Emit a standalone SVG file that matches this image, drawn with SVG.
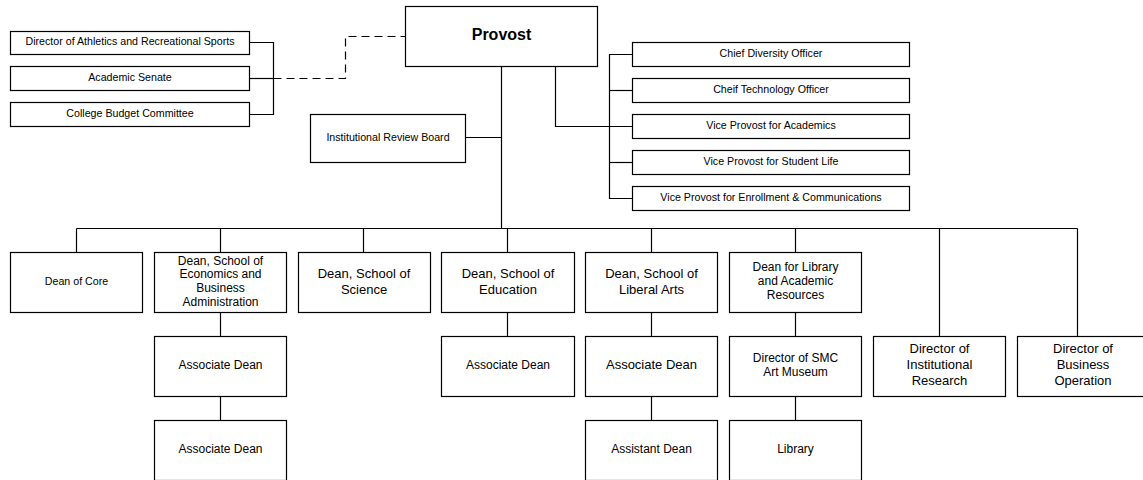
<svg xmlns="http://www.w3.org/2000/svg" width="1143" height="480" viewBox="0 0 1143 480">
<style>
  rect.box { fill: #ffffff; stroke: #000000; stroke-width: 1.2; }
  .conn path, .conn line { fill: none; stroke: #000000; stroke-width: 1.2; }
  .conn .dash { stroke-dasharray: 8 5; }
  text { font-family: "Liberation Sans", Arial, sans-serif; fill: #000000; text-anchor: middle; }
  .s { font-size: 10.67px; }
  .m { font-size: 12px; }
  .l { font-size: 13px; }
  .b { font-size: 16px; font-weight: bold; }
</style>
<rect width="1143" height="480" fill="#ffffff"/>

<g class="conn" id="connectors">
  <path d="M249.5 42.5 H273.5 V114.5 H249.5"/>
  <line x1="249.5" y1="78.5" x2="273.5" y2="78.5"/>
  <path class="dash" d="M273.5 78.5 H345.5 V36.5 H405.5"/>
  <line x1="501.5" y1="66.5" x2="501.5" y2="228.5"/>
  <line x1="465.5" y1="137.5" x2="501.5" y2="137.5"/>
  <path d="M555.5 66.5 V126.5 H632.5"/>
  <path d="M632.5 54.5 H609.5 V198.5 H632.5"/>
  <line x1="609.5" y1="90.5" x2="632.5" y2="90.5"/>
  <line x1="609.5" y1="162.5" x2="632.5" y2="162.5"/>
  <line x1="76.5" y1="228.5" x2="1077.5" y2="228.5"/>
  <line x1="76.5" y1="228.5" x2="76.5" y2="252.5"/>
  <line x1="220.5" y1="228.5" x2="220.5" y2="252.5"/>
  <line x1="363.5" y1="228.5" x2="363.5" y2="252.5"/>
  <line x1="507.5" y1="228.5" x2="507.5" y2="252.5"/>
  <line x1="651.5" y1="228.5" x2="651.5" y2="252.5"/>
  <line x1="795.5" y1="228.5" x2="795.5" y2="252.5"/>
  <line x1="939.5" y1="228.5" x2="939.5" y2="336.5"/>
  <line x1="1077.5" y1="228.5" x2="1077.5" y2="336.5"/>
  <line x1="220.5" y1="312.5" x2="220.5" y2="336.5"/>
  <line x1="220.5" y1="396.5" x2="220.5" y2="420.5"/>
  <line x1="507.5" y1="312.5" x2="507.5" y2="336.5"/>
  <line x1="651.5" y1="312.5" x2="651.5" y2="336.5"/>
  <line x1="651.5" y1="396.5" x2="651.5" y2="420.5"/>
  <line x1="795.5" y1="312.5" x2="795.5" y2="336.5"/>
  <line x1="795.5" y1="396.5" x2="795.5" y2="420.5"/>
</g>

<g id="provost"><rect class="box" x="405.5" y="6.5" width="192" height="60"/><text class="b" x="501.5" y="40">Provost</text></g>

<g id="athletics"><rect class="box" x="10.5" y="31.5" width="239" height="23"/><text class="s" x="130" y="45">Director of Athletics and Recreational Sports</text></g>
<g id="senate"><rect class="box" x="10.5" y="66.5" width="239" height="24"/><text class="s" x="130" y="81">Academic Senate</text></g>
<g id="budget"><rect class="box" x="10.5" y="102.5" width="239" height="24"/><text class="s" x="130" y="117">College Budget Committee</text></g>

<g id="irb"><rect class="box" x="310.5" y="114.5" width="155" height="48"/><text class="s" x="388" y="140.5">Institutional Review Board</text></g>

<g id="diversity"><rect class="box" x="632.5" y="42.5" width="277" height="24"/><text class="s" x="771" y="57.3">Chief Diversity Officer</text></g>
<g id="technology"><rect class="box" x="632.5" y="78.5" width="277" height="24"/><text class="s" x="771" y="93.3">Cheif Technology Officer</text></g>
<g id="vp-academics"><rect class="box" x="632.5" y="114.5" width="277" height="24"/><text class="s" x="771" y="129.3">Vice Provost for Academics</text></g>
<g id="vp-student"><rect class="box" x="632.5" y="150.5" width="277" height="24"/><text class="s" x="771" y="165.3">Vice Provost for Student Life</text></g>
<g id="vp-enrollment"><rect class="box" x="632.5" y="186.5" width="277" height="24"/><text class="s" x="771" y="201.3">Vice Provost for Enrollment &amp; Communications</text></g>

<g id="dean-core"><rect class="box" x="10.5" y="252.5" width="132" height="60"/><text class="s" x="76.5" y="285">Dean of Core</text></g>
<g id="dean-econ"><rect class="box" x="154.5" y="252.5" width="132" height="60"/>
  <text class="m" x="220.5"><tspan x="220.5" y="264.5">Dean, School of</tspan><tspan x="220.5" y="278.2">Economics and</tspan><tspan x="220.5" y="291.9">Business</tspan><tspan x="220.5" y="305.5">Administration</tspan></text></g>
<g id="dean-science"><rect class="box" x="298.5" y="252.5" width="132" height="60"/>
  <text class="l" x="364"><tspan x="364" y="277.8">Dean, School of</tspan><tspan x="364" y="293.8">Science</tspan></text></g>
<g id="dean-education"><rect class="box" x="441.5" y="252.5" width="133" height="60"/>
  <text class="l" x="508"><tspan x="508" y="277.8">Dean, School of</tspan><tspan x="508" y="293.8">Education</tspan></text></g>
<g id="dean-liberal"><rect class="box" x="585.5" y="252.5" width="132" height="60"/>
  <text class="l" x="651.5"><tspan x="651.5" y="277.8">Dean, School of</tspan><tspan x="651.5" y="293.8">Liberal Arts</tspan></text></g>
<g id="dean-library"><rect class="box" x="729.5" y="252.5" width="132" height="60"/>
  <text class="m" x="795.5"><tspan x="795.5" y="270.8">Dean for Library</tspan><tspan x="795.5" y="285">and Academic</tspan><tspan x="795.5" y="299.2">Resources</tspan></text></g>

<g id="econ-assoc1"><rect class="box" x="154.5" y="336.5" width="132" height="60"/><text class="m" x="220.5" y="368.5">Associate Dean</text></g>
<g id="econ-assoc2"><rect class="box" x="154.5" y="420.5" width="132" height="60"/><text class="m" x="220.5" y="452.5">Associate Dean</text></g>
<g id="edu-assoc"><rect class="box" x="441.5" y="336.5" width="133" height="60"/><text class="m" x="508" y="368.5">Associate Dean</text></g>
<g id="lib-assoc"><rect class="box" x="585.5" y="336.5" width="132" height="60"/><text class="l" x="651.5" y="369">Associate Dean</text></g>
<g id="lib-assist"><rect class="box" x="585.5" y="420.5" width="132" height="60"/><text class="m" x="651.5" y="452.5">Assistant Dean</text></g>
<g id="museum"><rect class="box" x="729.5" y="336.5" width="132" height="60"/>
  <text class="m" x="795.5"><tspan x="795.5" y="361.5">Director of SMC</tspan><tspan x="795.5" y="375.9">Art Museum</tspan></text></g>
<g id="library"><rect class="box" x="729.5" y="420.5" width="132" height="60"/><text class="m" x="795.5" y="452.5">Library</text></g>
<g id="dir-research"><rect class="box" x="873.5" y="336.5" width="132" height="60"/>
  <text class="l" x="939.5"><tspan x="939.5" y="353">Director of</tspan><tspan x="939.5" y="369">Institutional</tspan><tspan x="939.5" y="385.3">Research</tspan></text></g>
<g id="dir-business"><rect class="box" x="1017.5" y="336.5" width="132" height="60"/>
  <text class="l" x="1083"><tspan x="1083" y="353">Director of</tspan><tspan x="1083" y="369">Business</tspan><tspan x="1083" y="385.3">Operation</tspan></text></g>
</svg>
